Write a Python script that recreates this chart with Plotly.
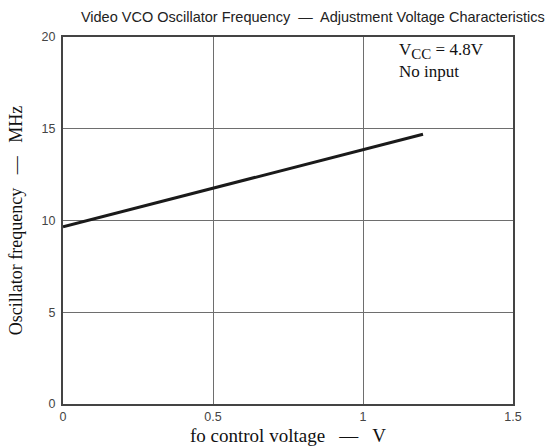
import plotly.graph_objects as go

# Control voltage (V) and resulting oscillator frequency (MHz)
control_voltage = [0.0, 0.3, 0.6, 0.9, 1.2]
osc_frequency = [9.66, 10.92, 12.18, 13.44, 14.70]

x_ticks = [0, 0.5, 1, 1.5]
x_tick_text = ["0", "0.5", "1", "1.5"]
y_ticks = [0, 5, 10, 15, 20]
y_tick_text = ["0", "5", "10", "15", "20"]

serif = "Liberation Serif, Times New Roman, serif"
sans = "Liberation Sans, Arial, sans-serif"

fig = go.Figure()
fig.add_trace(go.Scatter(
    x=control_voltage, y=osc_frequency, mode="lines",
    line=dict(color="#1a1a1a", width=3), showlegend=False,
))

fig.update_layout(
    width=547, height=446,
    margin=dict(l=63, r=34, t=37, b=42),
    paper_bgcolor="white", plot_bgcolor="white",
    title=dict(
        text="Video VCO Oscillator Frequency  —  Adjustment Voltage Characteristics",
        x=0.572, xanchor="center", y=0.962, yanchor="middle",
        font=dict(family=sans, size=14.5, color="#222"),
    ),
    xaxis=dict(
        range=[0, 1.5], tickvals=x_ticks, ticktext=x_tick_text,
        showgrid=True, gridcolor="#6e6e6e", gridwidth=1,
        showline=True, linecolor="#444", linewidth=2, mirror=True,
        zeroline=False, ticks="", ticklabelstandoff=0, automargin=False,
        tickfont=dict(family=sans, size=12.5, color="#444"),
    ),
    yaxis=dict(
        range=[0, 20], tickvals=y_ticks, ticktext=y_tick_text,
        showgrid=True, gridcolor="#6e6e6e", gridwidth=1,
        showline=True, linecolor="#444", linewidth=2, mirror=True,
        zeroline=False, ticks="", ticklabelstandoff=3, automargin=False,
        tickfont=dict(family=sans, size=12.5, color="#444"),
        title=dict(text="Oscillator frequency   —   MHz", standoff=14,
                   font=dict(family=serif, size=18, color="#111")),
    ),
)

# x-axis caption placed below the tick labels
fig.add_annotation(
    x=0.5, y=-0.085, xref="paper", yref="paper", xanchor="center", yanchor="middle",
    text="fo control voltage   —   V", showarrow=False,
    font=dict(family=serif, size=19, color="#111"),
)

fig.add_annotation(
    x=1.113, y=19.22, xref="x", yref="y", xanchor="left", yanchor="middle",
    text="V<sub><span style='font-size:15px'>CC</span></sub> = 4.8V",
    showarrow=False, align="left",
    font=dict(family=serif, size=17, color="#111"),
)
fig.add_annotation(
    x=1.113, y=18.1, xref="x", yref="y", xanchor="left", yanchor="middle",
    text="No input", showarrow=False, align="left",
    font=dict(family=serif, size=17, color="#111"),
)

fig.write_html("out.html")
